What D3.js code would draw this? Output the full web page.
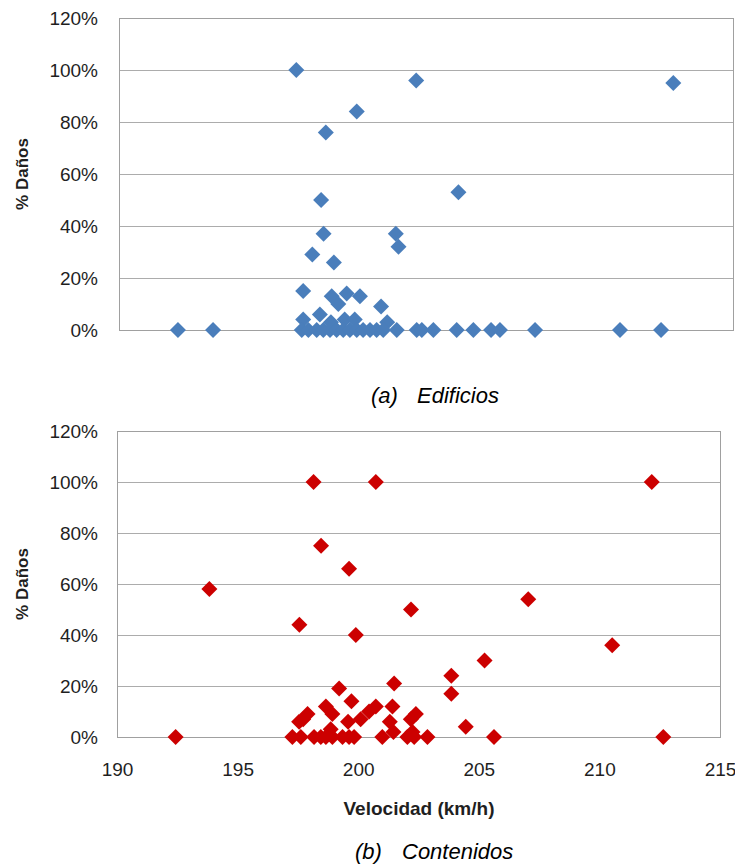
<!DOCTYPE html>
<html lang="es">
<head>
    <meta charset="UTF-8">
    <title>% Daños vs Velocidad</title>
    <style>
        body { margin: 0; background: #fff; }
        text { font-family: "Liberation Sans", Arial, sans-serif; }
    </style>
</head>
<script src="https://d3js.org/d3.v7.min.js" charset="UTF-8"></script>
<body>

<script>

    // (a) Edificios - velocidad (km/h) y % de daños
    var edVel = [197.22, 202.10, 212.57, 199.68, 198.42, 198.23, 203.82, 198.33, 201.27, 201.38,
                 197.87, 198.75, 197.50, 198.66, 199.27, 199.81, 198.93, 200.67, 197.50, 198.18,
                 198.63, 199.19, 199.60, 200.92,
                 192.40, 193.83, 197.44, 197.71, 198.05, 198.32, 198.59, 198.86, 199.13, 199.40,
                 199.68, 199.94, 200.22, 200.49, 200.76, 201.31, 202.12, 202.33, 202.80, 203.75,
                 204.43, 205.15, 205.51, 206.94, 210.40, 212.07];
    var edDano = [100, 96, 95, 84, 76, 50, 53, 37, 37, 32,
                  29, 26, 15, 13, 14, 13, 10, 9, 4, 6,
                  3, 4, 4, 3,
                  0, 0, 0, 0, 0, 0, 0, 0, 0, 0,
                  0, 0, 0, 0, 0, 0, 0, 0, 0, 0,
                  0, 0, 0, 0, 0, 0];

    // (b) Contenidos
    var coVel = [198.15, 200.73, 212.17, 198.46, 199.62, 193.83, 207.05, 202.19, 197.56, 199.90,
                 210.53, 205.24, 203.86, 201.49, 199.21, 203.86, 199.72, 198.66, 200.73, 201.42,
                 197.90, 198.93, 202.39, 200.45, 197.72, 200.10, 202.18, 197.55, 199.58, 201.31,
                 198.86, 204.46, 201.46, 202.25,
                 192.43, 197.27, 197.62, 198.17, 198.45, 198.66, 198.93, 199.35, 199.62, 199.83,
                 201.00, 202.04, 202.32, 202.87, 205.63, 212.65];
    var coDano = [100, 100, 100, 75, 66, 58, 54, 50, 44, 40,
                  36, 30, 24, 21, 19, 17, 14, 12, 12, 12,
                  9, 9, 9, 10, 7, 7, 7, 6, 6, 6,
                  3, 4, 2, 2,
                  0, 0, 0, 0, 0, 0, 0, 0, 0, 0,
                  0, 0, 0, 0, 0, 0];

    var yTicks = [0, 20, 40, 60, 80, 100, 120];
    var xTicks = [190, 195, 200, 205, 210, 215];

    var width = 735, height = 865;
    const svg = d3.select("body")
        .append("svg")
        .attr("width", width)
        .attr("height", height);

    function drawChart(cfg) {
        var x = d3.scaleLinear().domain([190, 215]).range([cfg.left, cfg.right]);
        var y = d3.scaleLinear().domain([0, 120]).range([cfg.bottom, cfg.top]);
        var g = svg.append("g");

        // grid + y labels
        var yAxis = g.append("g")
            .attr("transform", "translate(" + cfg.left + ",0)")
            .call(d3.axisLeft(y)
                .tickValues(yTicks)
                .tickSize(-(cfg.right - cfg.left))
                .tickPadding(cfg.left - 98)
                .tickFormat(d => d + "%"));
        yAxis.select(".domain").remove();
        yAxis.selectAll("line")
            .attr("stroke", "#acacac")
            .attr("shape-rendering", "crispEdges");
        yAxis.selectAll("text")
            .attr("fill", "#1f1f1f")
            .style("font-size", "19px");

        // plot frame
        g.append("rect")
            .attr("x", cfg.left)
            .attr("y", cfg.top)
            .attr("width", cfg.right - cfg.left)
            .attr("height", cfg.bottom - cfg.top)
            .attr("fill", "none")
            .attr("stroke", "#a0a0a0")
            .attr("shape-rendering", "crispEdges");

        if (cfg.showX) {
            var xAxis = g.append("g")
                .attr("transform", "translate(0," + cfg.bottom + ")")
                .call(d3.axisBottom(x)
                    .tickValues(xTicks)
                    .tickSize(0)
                    .tickPadding(26));
            xAxis.select(".domain").remove();
            xAxis.selectAll("text")
                .attr("fill", "#1f1f1f")
                .style("font-size", "19px");

            g.append("text")
                .attr("x", 419)
                .attr("y", 815)
                .attr("text-anchor", "middle")
                .attr("font-weight", "bold")
                .attr("fill", "#1f1f1f")
                .style("font-size", "19px")
                .text("Velocidad (km/h)");
        }

        // y title
        g.append("text")
            .attr("transform", "translate(28," + ((cfg.top + cfg.bottom) / 2) + ") rotate(-90)")
            .attr("text-anchor", "middle")
            .attr("font-weight", "bold")
            .attr("fill", "#1f1f1f")
            .style("font-size", "17px")
            .text("% Daños");

        // points
        var pts = cfg.vel.map((v, i) => ({v: v, d: cfg.dano[i]}));
        var s = 8;
        g.append("g")
            .selectAll("path")
            .data(pts)
            .join("path")
            .attr("d", "M0," + (-s) + "L" + s + ",0L0," + s + "L" + (-s) + ",0Z")
            .attr("transform", d => "translate(" + x(d.v) + "," + y(d.d) + ")")
            .attr("fill", cfg.color);

        // caption
        g.append("text")
            .attr("x", cfg.capX1)
            .attr("y", cfg.capY)
            .attr("font-style", "italic")
            .attr("fill", "#000")
            .style("font-size", "22px")
            .text(cfg.capA);
        g.append("text")
            .attr("x", cfg.capX2)
            .attr("y", cfg.capY)
            .attr("font-style", "italic")
            .attr("fill", "#000")
            .style("font-size", "22px")
            .text(cfg.capB);
    }

    drawChart({
        left: 119, right: 733, top: 18, bottom: 330,
        vel: edVel, dano: edDano, color: "#4a7ebb", showX: false,
        capA: "(a)", capB: "Edificios", capX1: 371, capX2: 417, capY: 403
    });

    drawChart({
        left: 117, right: 720, top: 431, bottom: 737,
        vel: coVel, dano: coDano, color: "#cc0000", showX: true,
        capA: "(b)", capB: "Contenidos", capX1: 355, capX2: 402, capY: 859
    });

</script>

</body>
</html>
